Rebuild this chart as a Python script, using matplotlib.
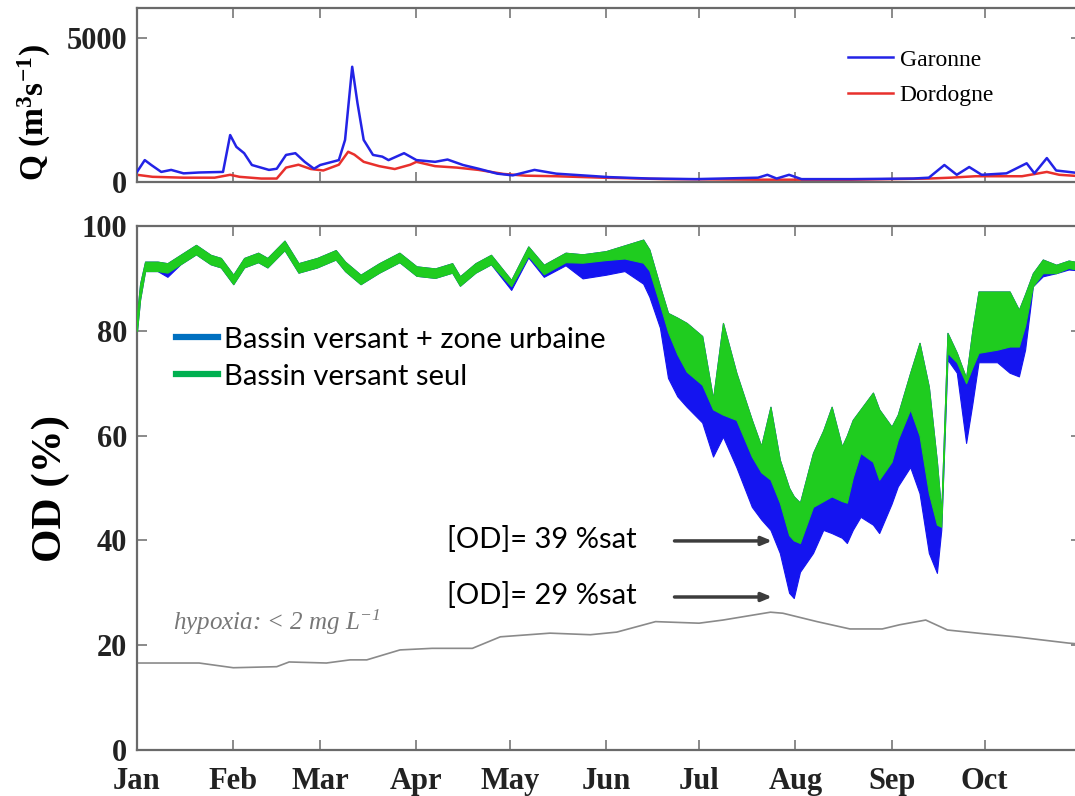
import matplotlib
matplotlib.use("Agg")
import matplotlib.pyplot as plt
from matplotlib.lines import Line2D

# -----------------------------
# Débits (m3/s)
# -----------------------------
gar_days = [0, 2.5, 4.6, 7.8, 11, 15, 20, 27.7, 30, 32, 34.5, 37, 42.5, 45, 48, 51, 54, 57, 59,
            65, 67, 69.3, 71, 73, 76, 79, 81, 86, 90, 96, 100, 105, 110, 116, 121, 128, 135,
            152, 165, 180, 200, 203, 206, 210, 214, 230, 250, 255, 260, 264, 268, 272, 280,
            286.5, 289, 293, 296, 300, 304]
gar_q = [350, 760, 590, 350, 420, 300, 330, 350, 1630, 1220, 1000, 590, 420, 460, 940, 1000, 700,
         460, 590, 760, 1460, 4000, 2740, 1460, 940, 880, 760, 1000, 760, 700, 780, 590, 460, 290,
         230, 420, 290, 170, 120, 100, 150, 250, 120, 250, 100, 100, 120, 150, 590, 250, 520, 250,
         300, 650, 300, 830, 400, 350, 300]

dor_days = [0, 5, 15, 25, 30, 33, 40, 45, 48, 52, 56, 60, 65, 68, 70, 73, 78, 83, 88, 90, 96, 103,
            110, 118, 125, 135, 150, 170, 200, 230, 255, 262, 270, 285, 293, 297, 304]
dor_q = [250, 180, 150, 150, 250, 180, 120, 120, 500, 600, 450, 400, 600, 1050, 950, 700, 550, 450,
         600, 700, 550, 500, 420, 280, 220, 200, 150, 100, 80, 80, 120, 150, 200, 200, 350, 250, 200]

# -----------------------------
# Oxygène dissous (% sat), enveloppes de la bande tidale
# -----------------------------
od_days = [0, 1, 2.6, 6.6, 9.8, 14, 19, 23.7, 27, 31, 34.5, 39, 42, 47.5, 52, 58, 64, 67, 72, 78,
           84.5, 90, 96, 101.5, 104, 109, 114, 120.5, 126, 131, 138, 143.5, 151, 157, 163, 165,
           168.4, 171, 174, 177, 182, 185.5, 188.7, 193, 198, 201, 204, 207, 210, 211.5, 213.5,
           217.7, 221, 223.7, 227, 228.6, 230.5, 233, 237, 239, 243, 245, 249, 252, 255, 257.6,
           259, 261, 264, 267, 269, 271, 277, 281, 284, 286, 288.5, 291.7, 296, 300, 304]
green_hi = [83, 89, 93.2, 93.2, 92.9, 94.5, 96.4, 94.5, 93.9, 90.7, 93.9, 94.9, 93.9, 97.2, 92.9,
            93.9, 95.4, 93.2, 90.7, 92.9, 94.9, 92.3, 91.9, 92.9, 90.4, 92.9, 94.5, 89.7, 96.1,
            92.6, 94.9, 94.6, 95.2, 96.3, 97.4, 95.5, 88.5, 83.4, 82.5, 81.5, 79, 67, 81.5, 72,
            63, 58, 65.5, 55.4, 50, 48.4, 47.2, 56.7, 61, 65.5, 57.9, 60, 63, 65, 68.2, 65, 61.7,
            64, 72, 77.7, 69.3, 55, 45.3, 79.6, 75.8, 71, 80, 87.5, 87.5, 87.5, 84, 87, 91, 93.6,
            92.6, 93.4, 93]
green_lo = [80, 86, 91.4, 91.4, 91.1, 92.7, 94.6, 92.7, 92.1, 88.9, 92.1, 93.1, 92.1, 95.4, 91.1,
            92.1, 93.6, 91.4, 88.9, 91.1, 93.1, 90.5, 90.1, 91.1, 88.6, 91.1, 92.7, 88.5, 94.3,
            90.8, 93.1, 93.0, 93.5, 93.8, 93.0, 91.5, 85, 79.8, 75.5, 72.2, 69.7, 65, 64, 63,
            56, 53, 51.6, 47.2, 41, 40, 39.5, 46.4, 47.5, 48.4, 47.5, 47.2, 52, 56.7, 55, 51.6,
            55, 59.2, 65, 60, 49, 43, 42.6, 75.8, 74, 70, 73, 75.8, 76.4, 77, 77, 81, 88.5, 91,
            91, 92, 91.5]
blue_lo = [80, 86, 91.4, 91.4, 90.3, 92.7, 94.6, 92.7, 92.1, 88.9, 92.1, 93.1, 92.1, 95.4, 91.1,
           92.1, 93.6, 91.4, 88.9, 91.1, 93.1, 90.5, 90.1, 91.1, 88.6, 91.1, 92.7, 87.8, 94.0,
           90.3, 92.5, 90.0, 90.7, 91.4, 89.0, 86.5, 80.6, 71, 67.5, 65.5, 62.5, 56, 59.8, 54,
           46.4, 44, 42, 37.6, 30, 29, 34, 37.6, 42, 41.4, 40.5, 39.5, 42, 44.5, 43, 41.4, 47,
           50.3, 54, 49, 37.6, 33.8, 42, 74.5, 72, 58.6, 66, 74, 74, 72, 71.3, 76.4, 88.5, 90.4,
           91, 91.7, 91.5]

# seuil d'hypoxie (% sat)
hyp_days = [0, 20, 31, 45, 49, 61, 68.6, 74, 84.7, 95, 108, 117, 133, 146, 154.5, 167, 181, 188.7,
            204, 208, 219, 229.6, 240, 245.6, 254, 261, 272.4, 283, 300, 304]
hyp_od = [16.6, 16.6, 15.7, 15.9, 16.8, 16.6, 17.2, 17.2, 19.1, 19.4, 19.4, 21.6, 22.3, 22.0, 22.5,
          24.5, 24.2, 24.8, 26.3, 26.1, 24.5, 23.1, 23.1, 23.9, 24.8, 22.9, 22.2, 21.6, 20.4, 20.2]

month_days = [0, 31, 59, 90, 120, 151, 181, 212, 243, 273]
month_labels = ["Jan", "Feb", "Mar", "Apr", "May", "Jun", "Jul", "Aug", "Sep", "Oct"]

SERIF = "Liberation Serif"
SANS = "Lato"
plt.rcParams["mathtext.fontset"] = "custom"
plt.rcParams["mathtext.rm"] = "Liberation Serif"
plt.rcParams["mathtext.it"] = "Liberation Serif:italic"
plt.rcParams["mathtext.bf"] = "Liberation Serif:bold"

fig = plt.figure(figsize=(10.75, 7.96), dpi=100)
W, H = 1075, 796


def px_axes(left, top, right, bottom):
    return fig.add_axes([left / W, 1 - bottom / H, (right - left) / W, (bottom - top) / H])


ax_q = px_axes(137, 8, 1081, 182)
ax_od = px_axes(137, 226, 1081, 750)


def style(ax):
    for s in ax.spines.values():
        s.set_color("#6a6a6a")
        s.set_linewidth(1.6)
    ax.tick_params(direction="in", length=7, width=1.2, color="#777777",
                   top=True, right=True, pad=7)
    ax.set_xlim(0, 304)
    ax.set_xticks(month_days)
    for lab in ax.get_yticklabels() + ax.get_xticklabels():
        lab.set_fontfamily(SERIF)
        lab.set_fontweight("bold")
        lab.set_fontsize(22)
        lab.set_color("#222222")


# -----------------------------
# Panneau du haut : débits
# -----------------------------
ax_q.plot(dor_days, dor_q, color="#e8302c", lw=1.8, zorder=2)
ax_q.plot(gar_days, gar_q, color="#2323e6", lw=1.8, zorder=3)
ax_q.set_ylim(0, 6040)
ax_q.set_yticks([0, 5000])
ax_q.set_xticklabels([])
style(ax_q)
ax_q.set_ylabel("Q (m$\\mathregular{^3}$s$\\mathregular{^{-1}}$)", fontfamily=SERIF,
                fontweight="bold", fontsize=24)
ax_q.yaxis.set_label_coords(-0.089, 0.40)
h_q = [Line2D([], [], color="#2323e6", lw=1.8), Line2D([], [], color="#e8302c", lw=1.8)]
ax_q.legend(h_q, ["Garonne", "Dordogne"], loc="center left", bbox_to_anchor=(0.753, 0.60),
            frameon=False, prop={"family": SERIF, "size": 17}, handlelength=1.9,
            handletextpad=0.3, borderpad=0, borderaxespad=0, labelspacing=0.6)

# -----------------------------
# Panneau du bas : OD
# -----------------------------
ax_od.fill_between(od_days, blue_lo, green_hi, color="#1414f0", lw=0.8, edgecolor="#1414f0", zorder=2)
ax_od.fill_between(od_days, green_lo, green_hi, color="#1fcc1f", lw=0.8, edgecolor="#1fcc1f", zorder=3)
ax_od.plot(hyp_days, hyp_od, color="#8a8a8a", lw=1.2, zorder=2)
ax_od.set_ylim(0, 100)
ax_od.set_yticks([0, 20, 40, 60, 80, 100])
ax_od.set_xticklabels(month_labels)
style(ax_od)
ax_od.tick_params(axis="x", pad=12)
ax_od.set_ylabel("OD (%)", fontfamily=SERIF, fontweight="bold", fontsize=31)
ax_od.yaxis.set_label_coords(-0.071, 0.5)

h_od = [Line2D([], [], color="#0070C0", lw=4.5), Line2D([], [], color="#00B050", lw=4.5)]
ax_od.legend(h_od, ["Bassin versant + zone urbaine", "Bassin versant seul"],
             loc="center left", bbox_to_anchor=(0.041, 0.748), frameon=False,
             prop={"family": SANS, "size": 21}, handlelength=1.45, handletextpad=0.22,
             borderpad=0, borderaxespad=0, labelspacing=0.38)

ax_od.text(11.6, 24.3, "hypoxia: < 2 mg L$\\mathregular{^{-1}}$", fontfamily=SERIF,
           style="italic", fontsize=18, color="#777777", va="center", ha="left")

for txt, yv in [("[OD]= 39 %sat", 40.1), ("[OD]= 29 %sat", 29.4)]:
    ax_od.text(99.8, yv, txt, fontfamily=SANS, fontsize=21, va="center", ha="left")
    ax_od.annotate("", xy=(205.4, yv - 0.2), xytext=(172.2, yv - 0.2),
                   arrowprops=dict(arrowstyle="-|>,head_length=0.6,head_width=0.25",
                                   color="#3c3c3c", lw=2.5))

fig.savefig("out.png", dpi=100)
